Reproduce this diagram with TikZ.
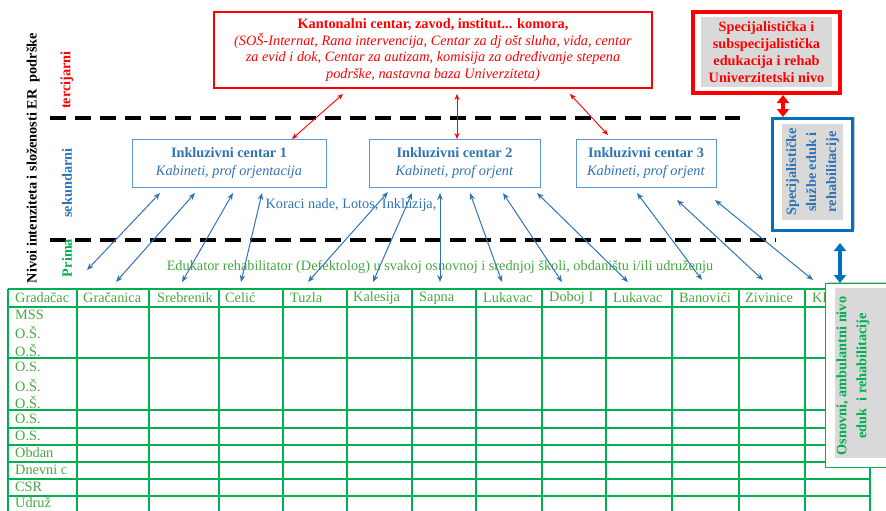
\documentclass[tikz,border=0pt]{standalone}
\usepackage{fontspec}
\setmainfont{Liberation Serif}
\usetikzlibrary{arrows.meta,shadows}
\definecolor{ered}{HTML}{FF0000}
\definecolor{eblue}{HTML}{2E74B5}
\definecolor{lblue}{HTML}{5B9BD5}
\definecolor{dblue}{HTML}{0070C0}
\definecolor{egreen}{HTML}{00B050}
\definecolor{tgreen}{HTML}{45A83F}
\definecolor{egray}{HTML}{D9D9D9}
\tikzset{
  txt/.style={font=\fontsize{14.3}{16.5}\selectfont, inner sep=0pt},
  icbox/.style={draw=lblue, line width=0.9pt, fill=white, minimum height=48pt, inner sep=0pt, align=center, text=eblue, font=\fontsize{14.3}{18}\selectfont},
  redarr/.style={draw=ered, line width=0.9pt, {Stealth[length=6pt,width=5pt]}-{Stealth[length=6pt,width=5pt]}},
  bluearr/.style={draw=eblue, line width=1pt, {Stealth[length=7pt,width=5.5pt]}-{Stealth[length=7pt,width=5.5pt]}},
  bigarr/.style={line width=3.5pt, {Triangle[length=8pt,width=12pt]}-{Triangle[length=8pt,width=12pt]}},
  level/.style={draw=black, line width=3.5pt, dash pattern=on 16pt off 9pt},
  gthin/.style={draw=egreen, line width=1.1pt},
  gthick/.style={draw=egreen, line width=2.2pt},
  cell/.style={txt, text=tgreen, anchor=west},
  shad/.style={drop shadow={opacity=0.35, shadow xshift=2pt, shadow yshift=2pt, fill=black!60}},
}
\begin{document}
\begin{tikzpicture}[x=1pt,y=-1pt]
\useasboundingbox (0,0) rectangle (886,511);
\clip (0,0) rectangle (886,511);

% dashed level lines
\coordinate (d1a) at (50,118); \coordinate (d1b) at (740,118);
\coordinate (d2a) at (50,240); \coordinate (d2b) at (776,240);
\draw[level] (d1a) -- (d1b);
\draw[level] (d2a) -- (d2b);

% left vertical labels
\node[txt, rotate=90, font=\bfseries\fontsize{14.3}{16}\selectfont] (nivoi) at (33,158) {Nivoi intenziteta i složenosti ER\ \ podrške};
\node[txt, rotate=90, text=ered, font=\bfseries\fontsize{14.3}{16}\selectfont] (terc) at (67,80) {tercijarni};
\node[txt, rotate=90, text=eblue, font=\bfseries\fontsize{14.3}{16}\selectfont] (sek) at (67,183) {sekundarni};
\node[txt, rotate=90, text=egreen, font=\bfseries\fontsize{14.3}{16}\selectfont] (prima) at (67,258) {Prima};

% cantonal centre
\node[draw=ered, line width=1.2pt, fill=white, minimum width=438pt, minimum height=76pt, inner sep=0pt, align=center, text=ered, font=\fontsize{14.3}{16.5}\selectfont] (kant) at (433,50)
 {\textbf{Kantonalni centar, zavod, institut... komora,}\\
  \textit{(SOŠ-Internat, Rana intervencija, Centar za dj ošt sluha, vida, centar}\\
  \textit{za evid i dok, Centar za autizam, komisija za određivanje stepena}\\
  \textit{podrške, nastavna baza Univerziteta)}};

% university level
\node[draw=ered, line width=4pt, fill=white, minimum width=147pt, minimum height=81pt, shad] (univ) at (766.5,52.5) {};
\node[fill=egray, minimum width=131pt, minimum height=70pt, inner sep=0pt, align=center, text=ered, font=\bfseries\fontsize{14.3}{17}\selectfont] (univt) at (766.5,52) {Specijalistička i\\subspecijalistička\\edukacija i rehab\\Univerzitetski nivo};

% specialist services
\node[draw=dblue, line width=3pt, fill=white, minimum width=80pt, minimum height=112pt, shad] (spec) at (812.5,174.5) {};
\node[fill=egray, minimum width=61pt, minimum height=96pt, inner sep=0pt] (specg) at (812.5,172) {};
\node[rotate=90, inner sep=0pt, align=center, text=eblue, font=\bfseries\fontsize{14.3}{20}\selectfont] (spect) at (812.5,172) {Specijalističke\\službe eduk i\\rehabilitacije};

% inclusive centres
\node[icbox, minimum width=194pt] (ic1) at (229,163) {\textbf{Inkluzivni centar 1}\\\textit{Kabineti, prof orjentacija}};
\node[icbox, minimum width=171pt] (ic2) at (454.5,163) {\textbf{Inkluzivni centar 2}\\\textit{Kabineti, prof orjent}};
\node[icbox, minimum width=140pt] (ic3) at (646,163) {\textbf{Inkluzivni centar 3}\\\textit{Kabineti, prof orjent}};

% red arrows
\coordinate (r1s) at (343,94); \coordinate (r1e) at (292,139);
\coordinate (r2s) at (457,94); \coordinate (r2e) at (457,139);
\coordinate (r3s) at (570,94); \coordinate (r3e) at (608,135);
\draw[redarr] (r1s) -- (r1e);
\draw[redarr] (r2s) -- (r2e);
\draw[redarr] (r3s) -- (r3e);
\coordinate (ux) at (783,0);
\draw[bigarr, draw=ered, fill=ered] (univ.south -| ux) -- (spec.north -| ux);

% texts
\node[txt, text=eblue] (kor) at (351,205) {Koraci nade, Lotos, Inkluzija,};
\node[txt, text=tgreen] (edu) at (440,267) {Edukator rehabilitator (Defektolog) u svakoj osnovnoj i srednjoj školi, obdaništu i/ili udruženju};

% blue arrows
\foreach \i/\sx/\sy/\ex/\ey in {1/160/193/87/270, 2/195/193/116/282, 3/233/193/182/282, 4/262/193/241/282,
  5/388/192/308/282, 6/412/193/373/282, 7/440/193/440/282, 8/470/193/502/282, 9/503/193/562/282,
  10/537/193/628/282, 11/637/193/702/280, 12/677/200/763/280, 13/715/200/813/280} {
  \coordinate (bs\i) at (\sx,\sy); \coordinate (be\i) at (\ex,\ey);
  \draw[bluearr] (bs\i) -- (be\i);
}

% table
\foreach \x in {8,77,149,219,347,412,476,542,606,739,870} \draw[gthin] (\x,289) -- (\x,515);
\foreach \x in {283,672,805} \draw[gthick] (\x,289) -- (\x,515);
\foreach \y in {289,307,358,445,479,496} \draw[gthin] (8,\y) -- (870,\y);
\foreach \y in {410,428,462} \draw[gthick] (8,\y) -- (870,\y);

\foreach \x/\t in {15/Gradačac, 83/Gračanica, 157/Srebrenik, 225/Celić, 290/Tuzla, 353/Kalesija, 419/Sapna,
  483/Lukavac, 549/Doboj I, 613/Lukavac, 679/Banovići, 745/Zivinice, 812/Kl}
  \node[cell] at (\x,298) {\t};
\foreach \y/\t in {315/MSS, 332/O.Š., 350/O.Š., 367/O.S., 385/O.Š., 402/O.Š., 419/O.S., 436/O.S., 453/Obdan, 470/Dnevni c, 487/CSR, 503/Udruž}
  \node[cell] at (15,\y) {\t};

% basic level box
\node[draw=egreen, line width=1.2pt, fill=white, minimum width=80pt, minimum height=184pt, anchor=north west, shad] (osn) at (825,283) {};
\node[fill=egray, minimum width=60pt, minimum height=170pt, inner sep=0pt, anchor=north west] (osng) at (835,288) {};
\node[rotate=90, inner sep=0pt, align=center, text=egreen, font=\bfseries\fontsize{14.3}{20}\selectfont] (osnt) at (853,376) {Osnovni, ambulantni nivo\\eduk\ \ i rehabilitacije};
\coordinate (bx) at (840,0);
\coordinate (bt) at (840,243);
\draw[bigarr, draw=dblue, fill=dblue] (bt) -- (osn.north -| bx);
\end{tikzpicture}
\end{document}
